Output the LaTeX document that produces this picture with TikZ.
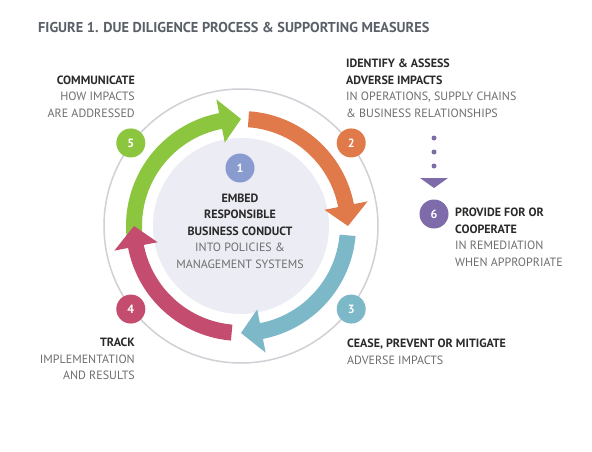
\documentclass[tikz,border=0pt]{standalone}
\usepackage{fontspec}
\setmainfont{PT Sans}
\definecolor{arrgreen}{HTML}{8CC63F}
\definecolor{arrorange}{HTML}{E07A4A}
\definecolor{arrblue}{HTML}{7DB8C9}
\definecolor{arrred}{HTML}{C44C6E}
\definecolor{lav}{HTML}{ECECF5}
\definecolor{one}{HTML}{8A9BD0}
\definecolor{purp}{HTML}{7E6BAA}
\definecolor{ring}{HTML}{D0D0D6}
\definecolor{titlegray}{HTML}{5A6068}
\definecolor{darktxt}{HTML}{2A2A2A}
\definecolor{lighttxt}{HTML}{6E6E6E}
\begin{document}
\begin{tikzpicture}[x=1pt,y=1pt,
  lbl/.style={inner sep=0pt, font=\fontsize{12}{16.5}\selectfont, text=lighttxt},
  num/.style={circle, fill=#1, minimum size=29pt, inner sep=0pt, text=white, font=\bfseries\fontsize{12}{12}\selectfont},
]
\useasboundingbox (0,0) rectangle (592,451);
\fill[white] (0,0) rectangle (592,451);
\node[anchor=base west, inner sep=0pt, font=\bfseries\fontsize{14.3}{14.3}\selectfont, text=titlegray] (title) at (38,418) {FIGURE 1. DUE DILIGENCE PROCESS \& SUPPORTING MEASURES};
\begin{scope}[shift={(241,225)}]
  \draw[ring, line width=1.5pt] (0,0) circle[radius=137];
  \fill[lav] (0,0) circle[radius=88];
  \foreach \c/\ts/\tp in {arrgreen/185/90, arrorange/86/0, arrblue/-5/-90, arrred/-95/-180} {
    \pgfmathsetmacro\hb{\tp+11}
    \fill[\c] (\ts:115) arc[start angle=\ts, end angle=\hb, radius=115] -- (\hb:129) -- (\tp:107) -- (\hb:85) -- (\hb:99) arc[start angle=\hb, end angle=\ts, radius=99] -- cycle;
  }
  \node[num=arrorange] (n2) at (37:138) {2};
  \node[num=arrblue] (n3) at (-37:138) {3};
  \node[num=arrred] (n4) at (-143:138) {4};
  \node[num=arrgreen] (n5) at (143:138) {5};
\end{scope}
\node[num=one] (n1) at (240,283) {1};
\node[lbl, anchor=north, align=center] (center) at (240,257.5) {\textcolor{darktxt}{\bfseries EMBED}\\\textcolor{darktxt}{\bfseries RESPONSIBLE}\\\textcolor{darktxt}{\bfseries BUSINESS CONDUCT}\\INTO POLICIES \&\\MANAGEMENT SYSTEMS};
\node[lbl, anchor=north east, align=right] (l5) at (135,375.7) {\textcolor{darktxt}{\bfseries COMMUNICATE}\\HOW IMPACTS\\ARE ADDRESSED};
\node[lbl, anchor=north west, align=left] (l2) at (346,392) {\textcolor{darktxt}{\bfseries IDENTIFY \& ASSESS}\\\textcolor{darktxt}{\bfseries ADVERSE IMPACTS}\\IN OPERATIONS, SUPPLY CHAINS\\\& BUSINESS RELATIONSHIPS};
\node[lbl, anchor=north west, align=left] (l3) at (347,112) {\textcolor{darktxt}{\bfseries CEASE, PREVENT OR MITIGATE}\\ADVERSE IMPACTS};
\node[lbl, anchor=north east, align=right] (l4) at (135,113) {\textcolor{darktxt}{\bfseries TRACK}\\IMPLEMENTATION\\AND RESULTS};
\node[num=purp] (n6) at (434,237) {6};
\node[lbl, anchor=north west, align=left] (l6) at (455,243) {\textcolor{darktxt}{\bfseries PROVIDE FOR OR}\\\textcolor{darktxt}{\bfseries COOPERATE}\\IN REMEDIATION\\WHEN APPROPRIATE};
\coordinate (d0) at (434,313);
\coordinate (d1) at (434,285);
\draw[purp, line width=5pt, line cap=round, dash pattern=on 0pt off 14pt] (d0) -- (d1);
\fill[purp] (420,273) -- (448,273) -- (434,263) -- cycle;
\end{tikzpicture}
\end{document}
